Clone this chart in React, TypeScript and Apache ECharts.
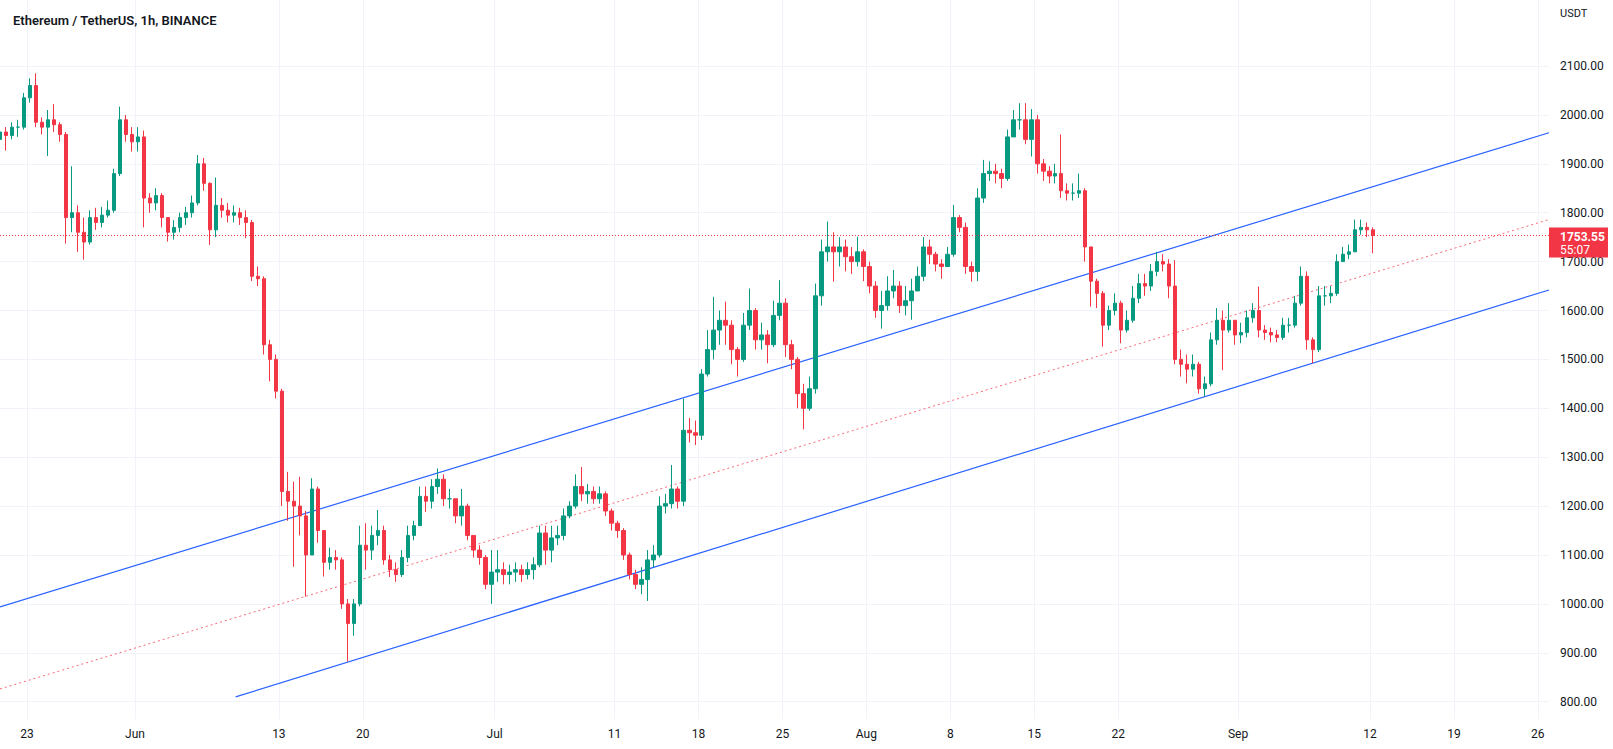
import React, { useEffect, useRef } from 'react';
import * as echarts from 'echarts';

const chartTitle = 'Ethereum / TetherUS, 1h, BINANCE';
const quoteUnit = 'USDT';
const lastPrice = 1753.55;
const countdown = '55:07';

// 12h candles, first one = May 20 12:00; time in hours from Jun 1 00:00 (candle centre)
const firstCandleHour = -270;
const candleHours = 12;
const firstOpen = 1950;

const closes = [
  1965,
  1958, 1975, 1975, 2035, 2060, 1985, 1975, 1990, 1980, 1960,
  1790, 1800, 1760, 1740, 1790, 1780, 1795, 1805, 1880, 1990, 1960, 1945,
  1955, 1830, 1820, 1835, 1790, 1760, 1770, 1790, 1800, 1820,
  1900, 1860, 1765, 1815, 1805, 1795, 1800, 1790, 1780, 1670,
  1665, 1530, 1500, 1435, 1230, 1210, 1200, 1180, 1100, 1235,
  1150, 1085, 1095, 1090, 1000, 960, 1000, 1120, 1110, 1140,
  1150, 1090, 1070, 1060, 1095, 1140, 1160, 1220, 1210, 1240,
  1255, 1215, 1215, 1180, 1200, 1140, 1110, 1095, 1040, 1065,
  1070, 1060, 1065, 1070, 1060, 1070, 1080, 1145, 1110, 1135,
  1140, 1180, 1200, 1240, 1225, 1230, 1215, 1225, 1190, 1165,
  1150, 1100, 1060, 1040, 1050, 1090, 1100, 1200, 1205, 1235,
  1210, 1355, 1350, 1345, 1470, 1520, 1560, 1580, 1570, 1520,
  1500, 1570, 1600, 1540, 1550, 1530, 1590, 1615, 1530, 1500,
  1430, 1400, 1440, 1630, 1720, 1730, 1720, 1730, 1710, 1700, 1720, 1690,
  1650, 1600, 1610, 1640, 1650, 1610, 1620, 1640, 1670, 1730,
  1715, 1695, 1690, 1715, 1790, 1770, 1690, 1680, 1830, 1880,
  1885, 1880, 1870, 1955, 1990, 1990, 1950, 1990, 1900, 1885,
  1875, 1880, 1845, 1840, 1840, 1845, 1730, 1660, 1635, 1570,
  1600, 1615, 1560, 1580, 1625, 1655, 1650, 1680, 1700, 1695,
  1650, 1500, 1490, 1480, 1490, 1440, 1450, 1540, 1580, 1560, 1580, 1550,
  1555, 1585, 1600, 1560, 1555, 1550, 1545, 1570, 1570, 1615,
  1670, 1540, 1520, 1630, 1630, 1635, 1700, 1715, 1720, 1765, 1770, 1765,
  1753.55,
];

const highs = [
  1985,
  1975, 1985, 1990, 2045, 2075, 2085, 1995, 2010, 2022, 1985,
  1965, 1895, 1815, 1790, 1805, 1810, 1812, 1825, 1890, 2017, 2000, 1975,
  1975, 1968, 1840, 1850, 1840, 1790, 1785, 1800, 1812, 1835,
  1918, 1912, 1862, 1872, 1830, 1820, 1815, 1810, 1805, 1785,
  1690, 1670, 1540, 1510, 1440, 1270, 1250, 1260, 1190, 1257,
  1240, 1150, 1115, 1110, 1095, 1010, 1010, 1160, 1165, 1160,
  1192, 1160, 1100, 1085, 1110, 1160, 1170, 1240, 1240, 1255,
  1277, 1265, 1235, 1215, 1235, 1205, 1140, 1120, 1100, 1110,
  1110, 1085, 1080, 1085, 1080, 1085, 1095, 1160, 1160, 1160,
  1160, 1195, 1210, 1265, 1280, 1245, 1240, 1240, 1230, 1195,
  1170, 1155, 1105, 1070, 1075, 1110, 1120, 1220, 1225, 1284,
  1240, 1420, 1380, 1375, 1480, 1560, 1628, 1600, 1618, 1580,
  1525, 1595, 1645, 1605, 1575, 1560, 1620, 1662, 1625, 1540,
  1505, 1450, 1465, 1655, 1745, 1782, 1760, 1750, 1745, 1730, 1751, 1725,
  1700, 1660, 1640, 1670, 1683, 1660, 1650, 1665, 1690, 1750,
  1745, 1720, 1705, 1730, 1816, 1795, 1780, 1700, 1850, 1908,
  1905, 1900, 1890, 1970, 2010, 2024, 2024, 2012, 2000, 1910,
  1895, 1900, 1960, 1860, 1860, 1880, 1850, 1730, 1665, 1640,
  1610, 1635, 1620, 1600, 1650, 1675, 1675, 1695, 1720, 1715,
  1705, 1703, 1520, 1510, 1510, 1495, 1465, 1555, 1605, 1600, 1615, 1580,
  1575, 1600, 1615, 1649, 1570, 1565, 1560, 1585, 1585, 1630,
  1690, 1680, 1545, 1650, 1650, 1650, 1715, 1730, 1735, 1786, 1786, 1780,
  1770,
];

const lows = [
  1935,
  1927, 1950, 1955, 1970, 2025, 1975, 1960, 1916, 1965, 1945,
  1737, 1760, 1720, 1704, 1735, 1765, 1770, 1790, 1800, 1875, 1945, 1925,
  1925, 1770, 1800, 1805, 1770, 1741, 1745, 1760, 1775, 1790,
  1815, 1845, 1734, 1750, 1790, 1780, 1780, 1775, 1748, 1660,
  1650, 1510, 1455, 1420, 1200, 1170, 1076, 1140, 1015, 1100,
  1125, 1056, 1070, 1070, 990, 882, 935, 995, 1070, 1090,
  1120, 1080, 1055, 1045, 1055, 1085, 1130, 1160, 1188, 1195,
  1225, 1200, 1195, 1165, 1160, 1130, 1095, 1080, 1030, 1000,
  1045, 1040, 1040, 1045, 1045, 1050, 1050, 1075, 1080, 1085,
  1120, 1130, 1175, 1195, 1210, 1205, 1205, 1205, 1180, 1150,
  1135, 1090, 1050, 1030, 1020, 1006, 1075, 1095, 1185, 1195,
  1195, 1200, 1330, 1325, 1335, 1465, 1500, 1530, 1530, 1490,
  1465, 1495, 1560, 1520, 1520, 1492, 1525, 1580, 1505, 1480,
  1400, 1357, 1395, 1430, 1610, 1700, 1659, 1690, 1680, 1675, 1690, 1660,
  1635, 1585, 1563, 1600, 1625, 1595, 1590, 1581, 1640, 1660,
  1695, 1680, 1665, 1690, 1710, 1760, 1675, 1659, 1660, 1820,
  1865, 1860, 1850, 1865, 1955, 1970, 1940, 1915, 1880, 1865,
  1860, 1860, 1830, 1825, 1825, 1830, 1700, 1608, 1605, 1526,
  1560, 1590, 1533, 1555, 1575, 1615, 1630, 1640, 1670, 1680,
  1625, 1490, 1465, 1451, 1465, 1430, 1424, 1445, 1530, 1478, 1555, 1530,
  1533, 1545, 1575, 1545, 1540, 1535, 1535, 1540, 1555, 1565,
  1610, 1520, 1492, 1515, 1610, 1615, 1630, 1700, 1705, 1720, 1755, 1750,
  1717,
];

// time axis labels: day offsets from Jun 1
const dateTickDays = [-9, 0, 12, 19, 30, 40, 47, 54, 61, 68, 75, 82, 92, 103, 110, 117];
const dateTickLabels = ['23', 'Jun', '13', '20', 'Jul', '11', '18', '25', 'Aug', '8', '15', '22', 'Sep', '12', '19', '26'];

const priceTicks = [800, 900, 1000, 1100, 1200, 1300, 1400, 1500, 1600, 1700, 1800, 1900, 2000, 2100];

// drawings: [hour from Jun 1, price]
const channelUpper = [[-270.2, 993.8], [2830.3, 1963.5]];
const channelLower = [[201.4, 809.8], [2830.3, 1642]];
const channelMiddle = [[-270.2, 826], [2830.3, 1786]];

const viewHours = [-270.2, 2830.3];
const viewPrice = [764.6, 2235.0];

const FONT = 'Roboto, "Open Sans", sans-serif';

export default function App() {
  const ref = useRef<HTMLDivElement>(null);

  useEffect(() => {
    if (!ref.current) return;
    const chart = echarts.init(ref.current, undefined, { renderer: 'svg' });

    const candles = closes.map((c, i) => [
      firstCandleHour + i * candleHours,
      i === 0 ? firstOpen : closes[i - 1],
      c,
      lows[i],
      highs[i],
    ]);
    const tickHours = dateTickDays.map((d) => d * 24);

    chart.setOption({
      animation: false,
      backgroundColor: '#ffffff',
      textStyle: { fontFamily: FONT },
      title: {
        text: chartTitle,
        left: 8,
        top: 9,
        textStyle: { fontSize: 13, fontWeight: 600, color: '#131722', fontFamily: FONT },
      },
      graphic: [
        {
          type: 'text',
          left: 1560,
          top: 8,
          style: { text: quoteUnit, fill: '#131722', fontSize: 11, fontFamily: FONT },
        },
      ],
      grid: { left: 0, right: 64, top: 0, bottom: 30, containLabel: false },
      xAxis: {
        type: 'value',
        min: viewHours[0],
        max: viewHours[1],
        axisLine: { show: false },
        axisTick: { show: false, customValues: tickHours },
        axisLabel: {
          customValues: tickHours,
          color: '#131722',
          fontSize: 12,
          margin: 9,
          fontFamily: FONT,
          formatter: (v: number) => {
            const idx = dateTickDays.indexOf(Math.round(v / 24));
            return idx >= 0 ? dateTickLabels[idx] : '';
          },
        },
        splitLine: { show: true, lineStyle: { color: '#f0f3fa', width: 1 } },
      },
      yAxis: {
        type: 'value',
        position: 'right',
        min: viewPrice[0],
        max: viewPrice[1],
        scale: true,
        axisLine: { show: false },
        axisTick: { show: false, customValues: priceTicks },
        axisLabel: {
          customValues: priceTicks,
          color: '#131722',
          fontSize: 12,
          margin: 11,
          fontFamily: FONT,
          formatter: (v: number) => v.toFixed(2),
        },
        splitLine: { show: true, lineStyle: { color: '#f0f3fa', width: 1 } },
      },
      series: [
        {
          type: 'line',
          data: channelMiddle,
          symbol: 'none',
          silent: true,
          lineStyle: { color: 'rgba(242,54,69,0.75)', width: 1, type: [2, 3] },
          z: 1,
        },
        {
          type: 'line',
          data: channelUpper,
          symbol: 'none',
          silent: true,
          lineStyle: { color: '#2962ff', width: 1.2 },
          z: 1,
        },
        {
          type: 'line',
          data: channelLower,
          symbol: 'none',
          silent: true,
          lineStyle: { color: '#2962ff', width: 1.2 },
          z: 1,
        },
        {
          type: 'candlestick',
          data: candles,
          encode: { x: 0, y: [1, 2, 3, 4] },
          barWidth: 4,
          z: 3,
          itemStyle: {
            color: '#089981',
            color0: '#f23645',
            borderColor: '#089981',
            borderColor0: '#f23645',
            borderWidth: 1,
          },
          markLine: {
            silent: true,
            symbol: ['none', 'none'],
            lineStyle: { color: '#f23645', width: 1, type: [1, 2] },
            label: {
              show: true,
              position: 'end',
              distance: 0,
              offset: [0, 7],
              backgroundColor: '#f23645',
              padding: [3, 8, 1, 11],
              width: 40,
              formatter: (p: any) => '{p|' + Number(p.value).toFixed(2) + '}\n{t|' + countdown + '}',
              rich: {
                p: { fontSize: 12, fontWeight: 'bold', color: '#ffffff', lineHeight: 13, fontFamily: FONT },
                t: { fontSize: 12, color: '#ffffff', lineHeight: 13, fontFamily: FONT },
              },
            },
            data: [{ yAxis: lastPrice }],
          },
        },
      ],
    });

    return () => chart.dispose();
  }, []);

  return (
    <div
      ref={ref}
      style={{ position: 'fixed', left: 0, top: 0, width: 1613, height: 749, background: '#fff' }}
    />
  );
}
